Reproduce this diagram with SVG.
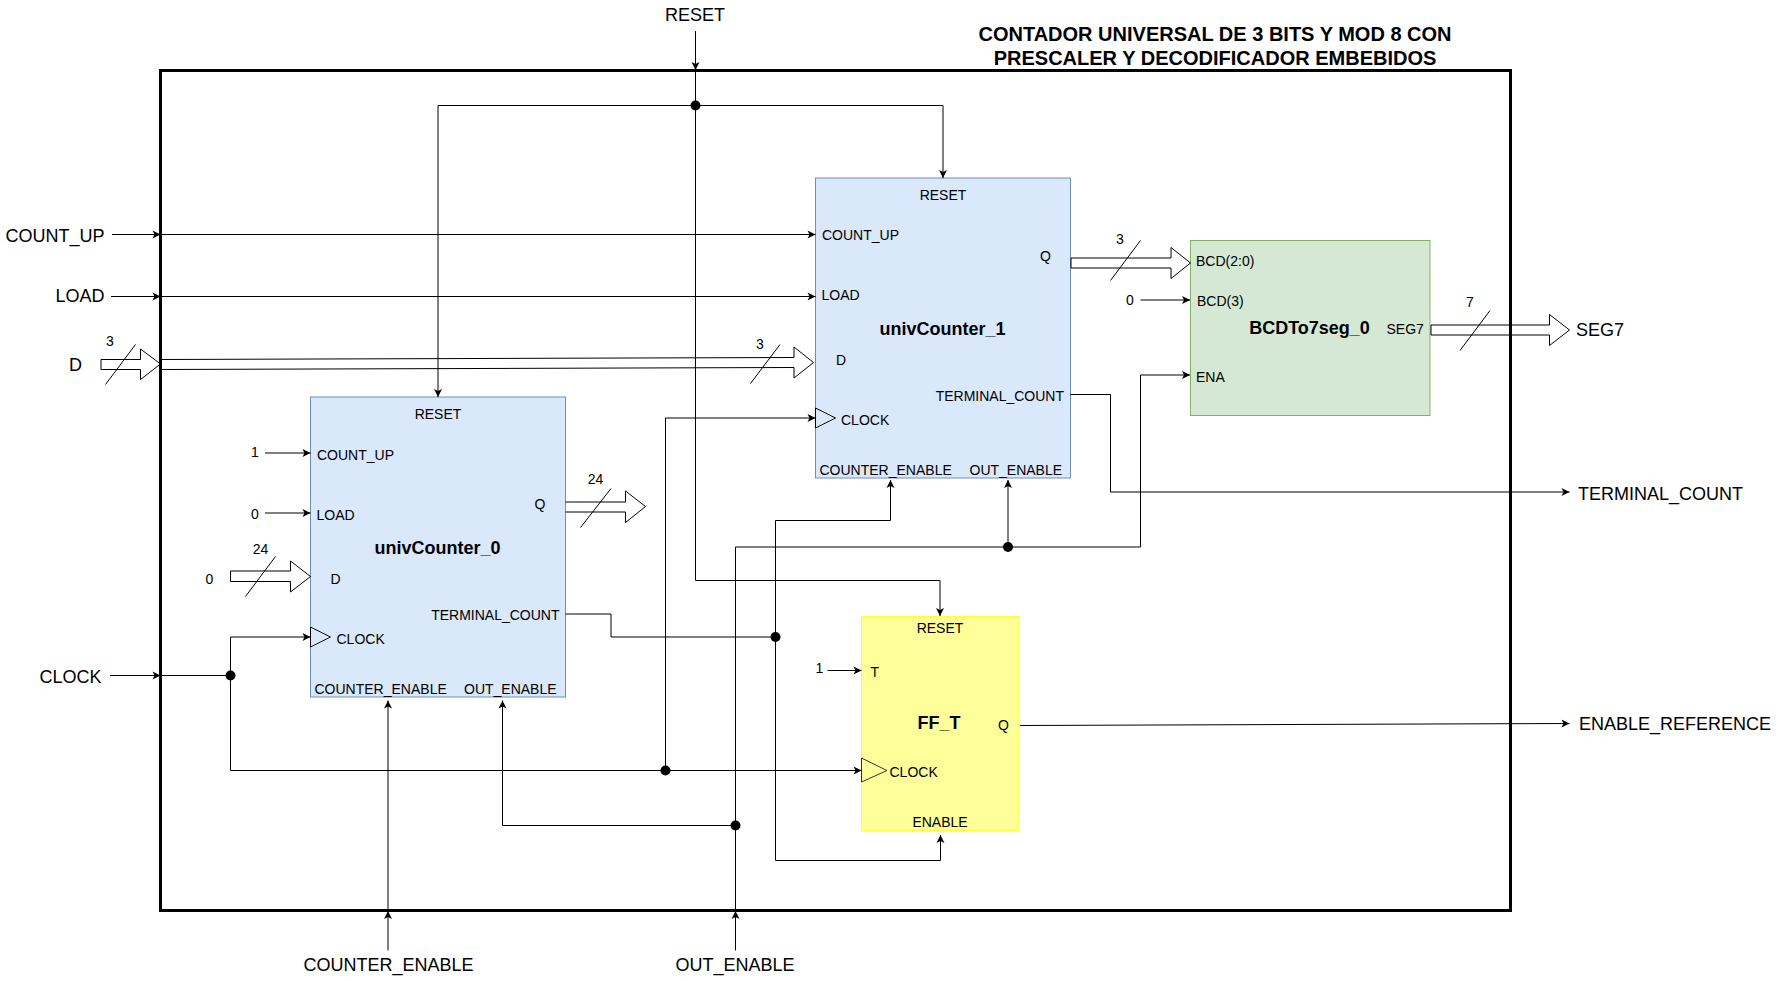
<svg xmlns="http://www.w3.org/2000/svg" width="1781" height="981" viewBox="0 0 1781 981">
<style>
text{font-family:"Liberation Sans",Arial,sans-serif;fill:#000}
.s{font-size:14px}.e{font-size:18px}.n{font-size:18px;font-weight:bold}.t{font-size:20px;font-weight:bold;text-anchor:middle}
.m{text-anchor:middle}.r{text-anchor:end}
.w{fill:none;stroke:#000;stroke-width:1}
.a{marker-end:url(#ah)}
.bus{fill:none;stroke:#000;stroke-width:1}
.sl{stroke:#000;stroke-width:1;fill:none}
.dot{fill:#000}
.ck{fill:none;stroke:#000;stroke-width:1}
</style>
<defs>
<marker id="ah" markerUnits="userSpaceOnUse" markerWidth="10" markerHeight="10" refX="8" refY="4" orient="auto" overflow="visible">
<path d="M8 4L0 8L2 4L0 0Z" fill="#000"/>
</marker>
</defs>
<rect width="1781" height="981" fill="#fff"/>
<g id="univCounter_0">
<rect x="310.5" y="397" width="255" height="300" fill="#dae8fc" stroke="#6c8ebf"/>
<path class="ck" d="M310.5 627L330.5 637L310.5 647Z"/>
<text class="n m" x="437.5" y="553.500">univCounter_0</text>
<text class="s m" x="438" y="419">RESET</text>
<text class="s" x="317" y="459.500">COUNT_UP</text>
<text class="s" x="316.5" y="519.500">LOAD</text>
<text class="s" x="330.5" y="583.500">D</text>
<text class="s" x="336.5" y="643.500">CLOCK</text>
<text class="s" x="314.5" y="693.500">COUNTER_ENABLE</text>
<text class="s" x="464" y="693.500">OUT_ENABLE</text>
<text class="s r" x="559.5" y="619.500">TERMINAL_COUNT</text>
<text class="s" x="534.5" y="509">Q</text>
</g>
<g id="univCounter_1">
<rect x="815.5" y="178" width="255" height="300" fill="#dae8fc" stroke="#6c8ebf"/>
<path class="ck" d="M815.5 408L835.5 418L815.5 428Z"/>
<text class="n m" x="942.5" y="334.500">univCounter_1</text>
<text class="s m" x="943" y="200">RESET</text>
<text class="s" x="822" y="240">COUNT_UP</text>
<text class="s" x="821.5" y="300">LOAD</text>
<text class="s" x="836" y="364.500">D</text>
<text class="s" x="841" y="424.500">CLOCK</text>
<text class="s" x="819.5" y="474.500">COUNTER_ENABLE</text>
<text class="s" x="969.5" y="474.500">OUT_ENABLE</text>
<text class="s r" x="1064" y="400.500">TERMINAL_COUNT</text>
<text class="s" x="1040" y="260.500">Q</text>
</g>
<g id="BCDTo7seg_0">
<rect x="1190.500" y="240.500" width="239.500" height="175" fill="#d5e8d4" stroke="#82b366"/>
<text class="n m" x="1309.500" y="334">BCDTo7seg_0</text>
<text class="s" x="1196" y="266">BCD(2:0)</text>
<text class="s" x="1197" y="306">BCD(3)</text>
<text class="s" x="1196" y="381.500">ENA</text>
<text class="s" x="1386.500" y="334">SEG7</text>
</g>
<g id="FF_T">
<rect x="861.5" y="616.5" width="157.500" height="214" fill="#ffff99" stroke="#ffff33"/>
<path d="M861.5 758L887 770.5L861.5 782Z" fill="none" stroke="#333"/>
<text class="n m" x="939" y="729">FF_T</text>
<text class="s m" x="940" y="632.500">RESET</text>
<text class="s" x="870.5" y="676.500">T</text>
<text class="s" x="889.500" y="776.500">CLOCK</text>
<text class="s m" x="940" y="826.500">ENABLE</text>
<text class="s" x="998" y="729.500">Q</text>
</g>
<g id="connectors">
<path class="w a" d="M695.5 31V70"/>
<path class="w" d="M695.5 70V580.5H940"/>
<path class="w a" d="M940 580.500V616"/>
<path class="w a" d="M695.5 105.500H438V397"/>
<path class="w a" d="M695.5 105.500H943V178"/>
<path class="w a" d="M112 234.500H160.5"/>
<path class="w a" d="M160.5 234.500H815.5"/>
<path class="w a" d="M111 296.500H160.5"/>
<path class="w a" d="M160.5 296.500H815.5"/>
<path class="w a" d="M110 675.500H160.5"/>
<path class="w" d="M160.5 675.500H230.5"/>
<path class="w a" d="M230.5 675.500V637H310.5"/>
<path class="w a" d="M230.5 675.500V770.500H861.5"/>
<path class="w a" d="M665.5 770.500V418H815.5"/>
<path class="w a" d="M388 950.500V911"/>
<path class="w a" d="M388 911V700.500"/>
<path class="w a" d="M735.5 950.500V911"/>
<path class="w" d="M735.5 911V547H1140.500V375"/>
<path class="w a" d="M1140.500 375H1190"/>
<path class="w a" d="M1008 547V480"/>
<path class="w a" d="M735.5 825.500H502.5V700.500"/>
<path class="w" d="M565.5 614H611V637H775.5"/>
<path class="w a" d="M775.5 637V860.500H940.5V835"/>
<path class="w a" d="M775.5 637V520.500H890.5V480"/>
<path class="w a" d="M1070.500 394.500H1110.500V492H1569.500"/>
<path class="w a" d="M1020 725.500L1569.500 723.500"/>
<path class="w a" d="M265 453H310.500"/>
<path class="w a" d="M265 513H310.500"/>
<path class="w a" d="M827.5 670.500H861.5"/>
<path class="w a" d="M1140.500 300H1190"/>
<path class="bus" d="M101 359.500H140.5V349L160.500 364L140.500 379.500V369.500H101Z"/>
<path class="bus" d="M160.500 359.500L794 357.500V347L813.500 362.500L794 378V367.500L160.500 369.500"/>
<path class="bus" d="M230.500 571H290.500V561L310.500 576.500L290.500 592V581.500H230.500Z"/>
<path class="bus" d="M565.500 502H625.500V491L645.500 506.500L625.500 522.500V512H565.500"/>
<path class="bus" d="M1071 258H1171V247.500L1190.500 263L1171 278.500V268H1071Z"/>
<path class="bus" d="M1431 325H1549.500V314.500L1569.500 330L1549.500 345.500V335H1431Z"/>
<path class="sl" d="M135.500 344.500L105.500 384.500"/>
<path class="sl" d="M780 344.500L750.500 383.500"/>
<path class="sl" d="M275.500 556.500L245.500 596.500"/>
<path class="sl" d="M611 488.500L580.500 527.500"/>
<path class="sl" d="M1140.500 240.500L1110.500 280.500"/>
<path class="sl" d="M1490 310.500L1460 350.500"/>
<circle class="dot" cx="695.5" cy="105.500" r="5"/>
<circle class="dot" cx="230.5" cy="675.500" r="5"/>
<circle class="dot" cx="665.5" cy="770.500" r="5"/>
<circle class="dot" cx="775.5" cy="637" r="5"/>
<circle class="dot" cx="735.5" cy="825.500" r="5"/>
<circle class="dot" cx="1008" cy="547" r="5"/>
</g>
<g id="frame"><rect x="160.5" y="70.5" width="1350" height="840" fill="none" stroke="#000" stroke-width="3"/></g>
<g id="title"><text class="t" x="1215" y="41">CONTADOR UNIVERSAL DE 3 BITS Y MOD 8 CON</text><text class="t" x="1215" y="65">PRESCALER Y DECODIFICADOR EMBEBIDOS</text></g>
<g id="labels">
<text class="e m" x="695" y="21">RESET</text>
<text class="e r" x="104.500" y="241.500">COUNT_UP</text>
<text class="e r" x="104.500" y="302">LOAD</text>
<text class="e m" x="75.5" y="371">D</text>
<text class="e" x="39.5" y="682.500">CLOCK</text>
<text class="e m" x="388.5" y="970.500">COUNTER_ENABLE</text>
<text class="e m" x="735" y="970.500">OUT_ENABLE</text>
<text class="e" x="1578" y="499.500">TERMINAL_COUNT</text>
<text class="e" x="1579" y="729.500">ENABLE_REFERENCE</text>
<text class="e" x="1576" y="336">SEG7</text>
<text class="s m" x="110" y="346">3</text>
<text class="s m" x="760" y="349">3</text>
<text class="s m" x="595.5" y="484">24</text>
<text class="s m" x="260.5" y="553.500">24</text>
<text class="s m" x="209.5" y="583.500">0</text>
<text class="s m" x="255" y="457">1</text>
<text class="s m" x="255" y="518.500">0</text>
<text class="s m" x="819.5" y="672.500">1</text>
<text class="s m" x="1120" y="244">3</text>
<text class="s m" x="1130" y="304.500">0</text>
<text class="s m" x="1470" y="306.500">7</text>
</g>
</svg>
